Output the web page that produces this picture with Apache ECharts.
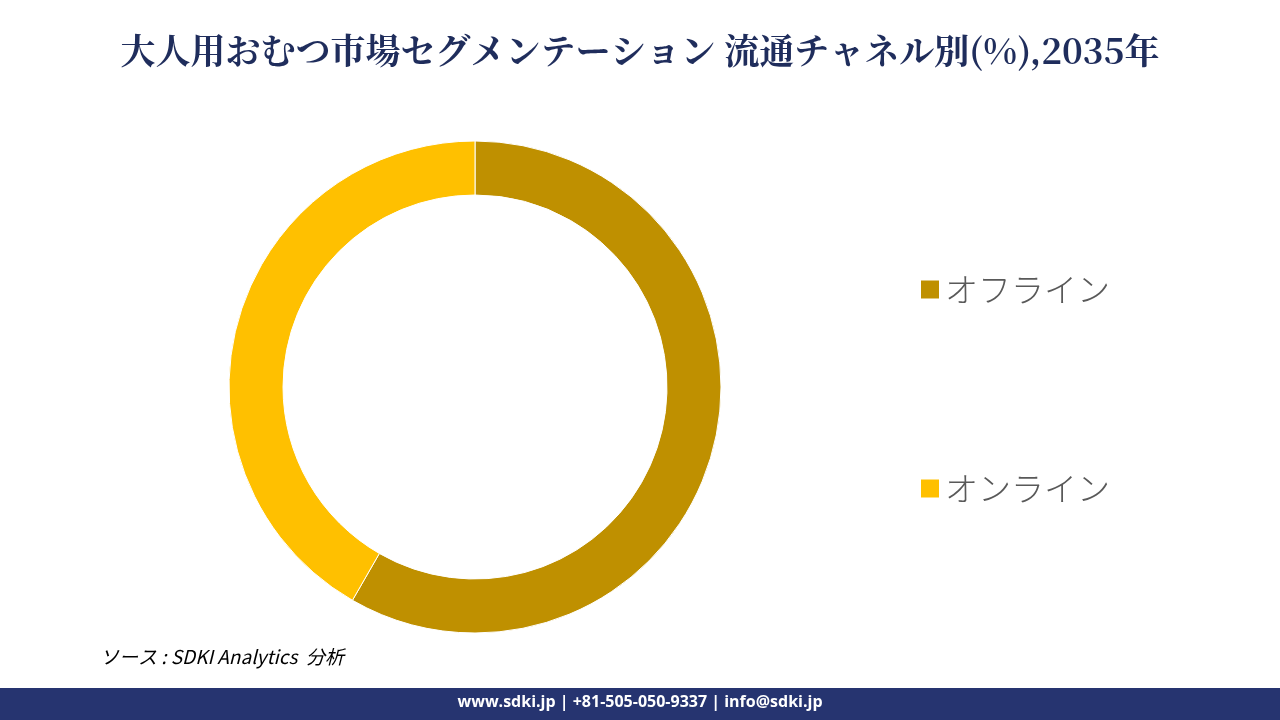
<!DOCTYPE html>
<html>
<head>
<meta charset="utf-8">
<script src="https://cdn.jsdelivr.net/npm/echarts@6/dist/echarts.min.js"></script>
<style>
html,body{margin:0;padding:0;width:1280px;height:720px;overflow:hidden;background:#fff;}
#chart{width:1280px;height:720px;}
</style>
</head>
<body>
<div id="chart"></div>
<script>
var categories = ["オフライン", "オンライン"];
var shares = [58.3, 41.7];
var colors = ["#bf9000", "#ffc000"];

var chart = echarts.init(document.getElementById("chart"));
var data = categories.map(function (name, i) {
    return {name: name, value: shares[i], itemStyle: {color: colors[i]}};
});

chart.setOption({
    animation: false,
    title: {
        text: "大人用おむつ市場セグメンテーション 流通チャネル別(%),2035年",
        left: "center",
        top: 28,
        textStyle: {fontFamily: "Noto Serif CJK JP, Noto Sans CJK JP", fontSize: 35, fontWeight: "bold", color: "#1f2d5c"}
    },
    legend: {
        orient: "vertical",
        left: 914,
        top: 268,
        itemGap: 166,
        itemWidth: 20,
        itemHeight: 20,
        icon: "rect",
        textStyle: {fontFamily: "Noto Sans CJK JP", fontSize: 33, fontWeight: 300, color: "#595959"},
        data: categories
    },
    graphic: [
        {type: "text", left: 100, top: 647,
         style: {text: "ソース : SDKI Analytics  分析", fontFamily: "Noto Sans CJK JP", fontSize: 19, fontStyle: "italic", fill: "#000"}},
        {type: "rect", left: 0, top: 688, shape: {width: 1280, height: 32}, style: {fill: "#263470"}},
        {type: "text", left: "center", top: 694,
         style: {text: "www.sdki.jp | +81-505-050-9337 | info@sdki.jp", fontFamily: "Open Sans", fontSize: 16, fontWeight: "bold", fill: "#fff"}}
    ],
    series: [{
        type: "pie",
        center: [475, 387],
        radius: [192, 246],
        startAngle: 90,
        clockwise: true,
        label: {show: false},
        labelLine: {show: false},
        itemStyle: {borderColor: "#fff", borderWidth: 1},
        data: data
    }]
});
</script>
</body>
</html>
